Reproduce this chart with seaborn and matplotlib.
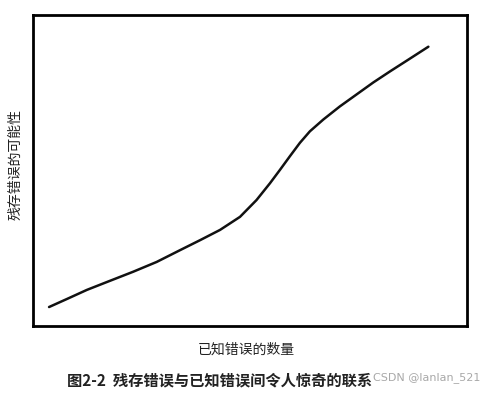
import matplotlib
matplotlib.use("Agg")
import matplotlib.pyplot as plt
import seaborn as sns
import pandas as pd

known_errors = [3.7, 8.0, 12.4, 17.5, 23.0, 28.5, 33.9, 38.5, 43.1, 47.7, 51.5, 54.6, 56.9, 59.2, 61.5, 63.8, 66.9, 70.7, 75.3, 78.4, 82.3, 86.1, 91.1]
residual_prob = [6.1, 8.8, 11.6, 14.4, 17.4, 20.6, 24.4, 27.6, 30.9, 35.1, 40.5, 45.9, 50.2, 54.6, 58.9, 62.6, 66.4, 70.6, 75.2, 78.3, 81.9, 85.3, 89.8]

x_label = "已知错误的数量"
y_label = "残存错误的可能性"
caption = "图2-2  残存错误与已知错误间令人惊奇的联系"
watermark = "CSDN @lanlan_521"

sns.set_theme(style="white")
plt.rcParams['font.family'] = ['Noto Sans CJK SC', 'DejaVu Sans']

df = pd.DataFrame({"x": known_errors, "y": residual_prob})

fig = plt.figure(figsize=(4.91, 3.93), dpi=100)
ax = fig.add_axes([33/491, 1-326/393, 434/491, 311/393])
sns.lineplot(data=df, x="x", y="y", sort=False, color="#111111", linewidth=1.8, ax=ax)
ax.lines[0].set_solid_joinstyle("round")
ax.set_xlim(0, 100)
ax.set_ylim(0, 100)
ax.set_xticks([])
ax.set_yticks([])
ax.set_xlabel("")
ax.set_ylabel("")
for s in ax.spines.values():
    s.set_color("black")
    s.set_linewidth(2)

fig.text(15/491, 1-165/393, y_label, rotation=90, ha="center", va="center", fontsize=10, color="#222222")
fig.text(246/491, 1-350/393, x_label, ha="center", va="center", fontsize=10, color="#222222")
fig.text(67/491, 1-380/393, caption, ha="left", va="center", fontsize=11, fontweight="bold", color="#222222")
fig.text(480/491, 1-378/393, watermark, ha="right", va="center", fontsize=8, color="#999999", alpha=0.85, family=["DejaVu Sans"])

fig.savefig("out.png", dpi=100, facecolor="white")
